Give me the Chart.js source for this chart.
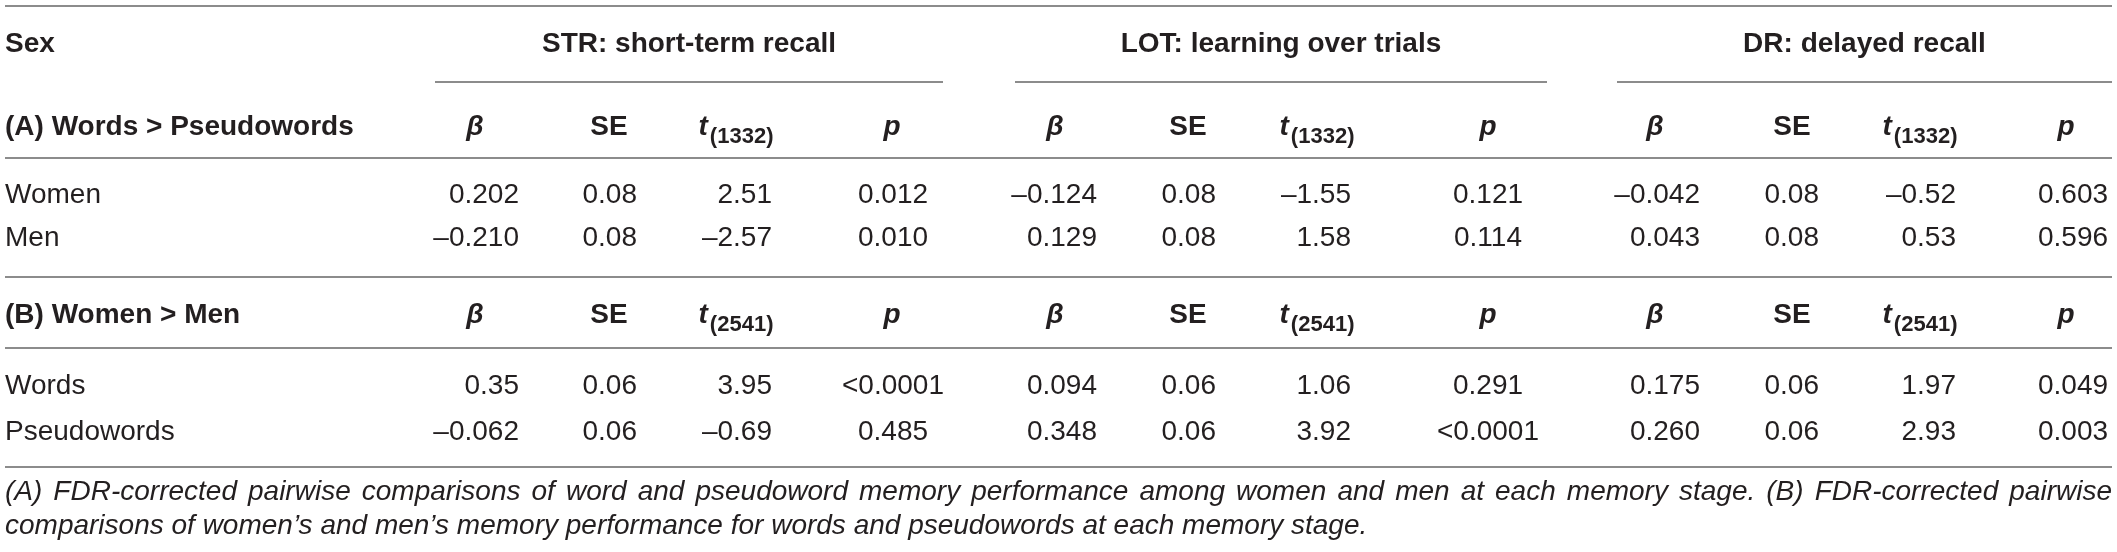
<!DOCTYPE html>
<html>
<head>
<meta charset="utf-8">
<script src="https://cdn.jsdelivr.net/npm/chart.js@4.4.1/dist/chart.umd.min.js"></script>
<style>
    html, body { margin: 0; padding: 0; background: #fff; }
    #wrap { width: 2117px; height: 552px; }
</style>
</head>
<body>
<div id="wrap"><canvas id="tableChart" width="2117" height="552"></canvas></div>
<script>
// ---- table content ----
const stageTitles = ['STR: short-term recall', 'LOT: learning over trials', 'DR: delayed recall'];
const sectionTitles = ['(A) Words > Pseudowords', '(B) Women > Men'];
const sectionDf = ['1332', '2541'];
const rowLabels = ['Women', 'Men', 'Words', 'Pseudowords'];

const strBeta = ['0.202', '-0.210', '0.35', '-0.062'];
const strSE = ['0.08', '0.08', '0.06', '0.06'];
const strT = ['2.51', '-2.57', '3.95', '-0.69'];
const strP = ['0.012', '0.010', '<0.0001', '0.485'];

const lotBeta = ['-0.124', '0.129', '0.094', '0.348'];
const lotSE = ['0.08', '0.08', '0.06', '0.06'];
const lotT = ['-1.55', '1.58', '1.06', '3.92'];
const lotP = ['0.121', '0.114', '0.291', '<0.0001'];

const drBeta = ['-0.042', '0.043', '0.175', '0.260'];
const drSE = ['0.08', '0.08', '0.06', '0.06'];
const drT = ['-0.52', '0.53', '1.97', '2.93'];
const drP = ['0.603', '0.596', '0.049', '0.003'];

const footnote = [
    '(A) FDR-corrected pairwise comparisons of word and pseudoword memory performance among women and men at each memory stage. (B) FDR-corrected pairwise',
    'comparisons of women\u2019s and men\u2019s memory performance for words and pseudowords at each memory stage.'
];

// ---- layout (scale units = px) ----
const FONT = '"Liberation Sans", Arial, Helvetica, sans-serif';
const TEXT = '#231f20';
const RULE = '#8c8c8c';
const leftX = 5;
const rightX = 2112;
const numRight = [[519, 637, 772], [1097, 1216, 1351], [1700, 1819, 1956]];
const headCenter = [[475, 609, 736, 892], [1055, 1188, 1317, 1488], [1655, 1792, 1920, 2066]];
const pCenter = [893, 1488, 2073];
const groupSpan = [[435, 943], [1015, 1547], [1617, 2112]];
const titleBase = 52;
const sectionBase = [135, 323];
const rowBase = [203, 246, 394, 440];
const noteBase = [500, 534];
const fullRules = [6, 158, 277, 348, 467];
const groupRuleY = 82;

const stageCols = [
    [strBeta, strSE, strT, strP],
    [lotBeta, lotSE, lotT, lotP],
    [drBeta, drSE, drT, drP]
];

const fmt = s => s.replace('-', '\u2013');

// every cell becomes one point, placed by the scales
const cells = [];
cells.push({ x: leftX, y: titleBase, text: 'Sex', font: 'bold 28px', align: 'left' });
stageTitles.forEach((t, g) => {
    cells.push({ x: (groupSpan[g][0] + groupSpan[g][1]) / 2, y: titleBase, text: t, font: 'bold 28px', align: 'center' });
});
sectionTitles.forEach((t, s) => {
    cells.push({ x: leftX, y: sectionBase[s], text: t, font: 'bold 28px', align: 'left' });
    for (let g = 0; g < 3; g++) {
        cells.push({ x: headCenter[g][0], y: sectionBase[s], text: '\u03B2', font: 'italic bold 28px', align: 'center' });
        cells.push({ x: headCenter[g][1], y: sectionBase[s], text: 'SE', font: 'bold 28px', align: 'center' });
        cells.push({ x: headCenter[g][2], y: sectionBase[s], text: 't', sub: '(' + sectionDf[s] + ')', kind: 'tHead' });
        cells.push({ x: headCenter[g][3], y: sectionBase[s], text: 'p', font: 'italic bold 28px', align: 'center' });
    }
});
rowLabels.forEach((lab, r) => {
    cells.push({ x: leftX, y: rowBase[r], text: lab, font: '28px', align: 'left' });
    stageCols.forEach((cols, g) => {
        for (let c = 0; c < 3; c++) {
            cells.push({ x: numRight[g][c], y: rowBase[r], text: fmt(cols[c][r]), font: '28px', align: 'right' });
        }
        cells.push({ x: pCenter[g], y: rowBase[r], text: cols[3][r], font: '28px', align: 'center' });
    });
});
footnote.forEach((line, i) => {
    // first line is justified to the table width, last line is not
    cells.push({ x: leftX, y: noteBase[i], text: line, font: 'italic 28px', align: 'left', kind: 'note', justify: i < footnote.length - 1 });
});

function drawJustified(ctx, text, x, y, width) {
    const words = text.split(' ');
    const widths = words.map(w => ctx.measureText(w).width);
    const total = widths.reduce((a, b) => a + b, 0);
    const gap = (width - total) / (words.length - 1);
    let cx = x;
    words.forEach((w, i) => {
        ctx.fillText(w, cx, y);
        cx += widths[i] + gap;
    });
}

const tablePlugin = {
    id: 'tablePlugin',
    beforeDatasetsDraw(chart) {
        const ctx = chart.ctx;
        const xs = chart.scales.x, ys = chart.scales.y;
        ctx.save();
        ctx.strokeStyle = RULE;
        ctx.lineWidth = 2;
        fullRules.forEach(y => {
            const py = Math.round(ys.getPixelForValue(y));
            ctx.beginPath();
            ctx.moveTo(xs.getPixelForValue(leftX), py);
            ctx.lineTo(xs.getPixelForValue(rightX), py);
            ctx.stroke();
        });
        groupSpan.forEach(([a, b]) => {
            const py = Math.round(ys.getPixelForValue(groupRuleY));
            ctx.beginPath();
            ctx.moveTo(xs.getPixelForValue(a), py);
            ctx.lineTo(xs.getPixelForValue(b), py);
            ctx.stroke();
        });
        ctx.restore();
    },
    afterDatasetsDraw(chart) {
        const ctx = chart.ctx;
        const xs = chart.scales.x;
        const meta = chart.getDatasetMeta(0);
        ctx.save();
        ctx.fillStyle = TEXT;
        ctx.textBaseline = 'alphabetic';

        meta.data.forEach((el, i) => {
            const c = cells[i];
            if (c.kind === 'tHead') {
                ctx.font = 'italic bold 28px ' + FONT;
                const w1 = ctx.measureText(c.text).width;
                ctx.font = 'bold 22px ' + FONT;
                const w2 = ctx.measureText(c.sub).width;
                const x0 = el.x - (w1 + w2 + 2) / 2;
                ctx.textAlign = 'left';
                ctx.font = 'italic bold 28px ' + FONT;
                ctx.fillText(c.text, x0, el.y);
                ctx.font = 'bold 22px ' + FONT;
                ctx.fillText(c.sub, x0 + w1 + 2, el.y + 8);
                return;
            }
            ctx.font = c.font + ' ' + FONT;
            ctx.textAlign = c.align;
            if (c.justify) {
                drawJustified(ctx, c.text, el.x, el.y, xs.getPixelForValue(rightX) - el.x);
            } else {
                ctx.fillText(c.text, el.x, el.y);
            }
        });
        ctx.restore();
    }
};

new Chart(document.getElementById('tableChart').getContext('2d'), {
    type: 'scatter',
    data: {
        datasets: [{
            data: cells.map(c => ({ x: c.x, y: c.y })),
            pointRadius: 0,
            pointHoverRadius: 0
        }]
    },
    options: {
        responsive: false,
        animation: false,
        devicePixelRatio: 1,
        layout: { padding: 0 },
        events: [],
        plugins: {
            legend: { display: false },
            tooltip: { enabled: false }
        },
        scales: {
            x: { type: 'linear', min: 0, max: 2117, display: false },
            y: { type: 'linear', min: 0, max: 552, reverse: true, display: false }
        }
    },
    plugins: [tablePlugin]
});
</script>
</body>
</html>
